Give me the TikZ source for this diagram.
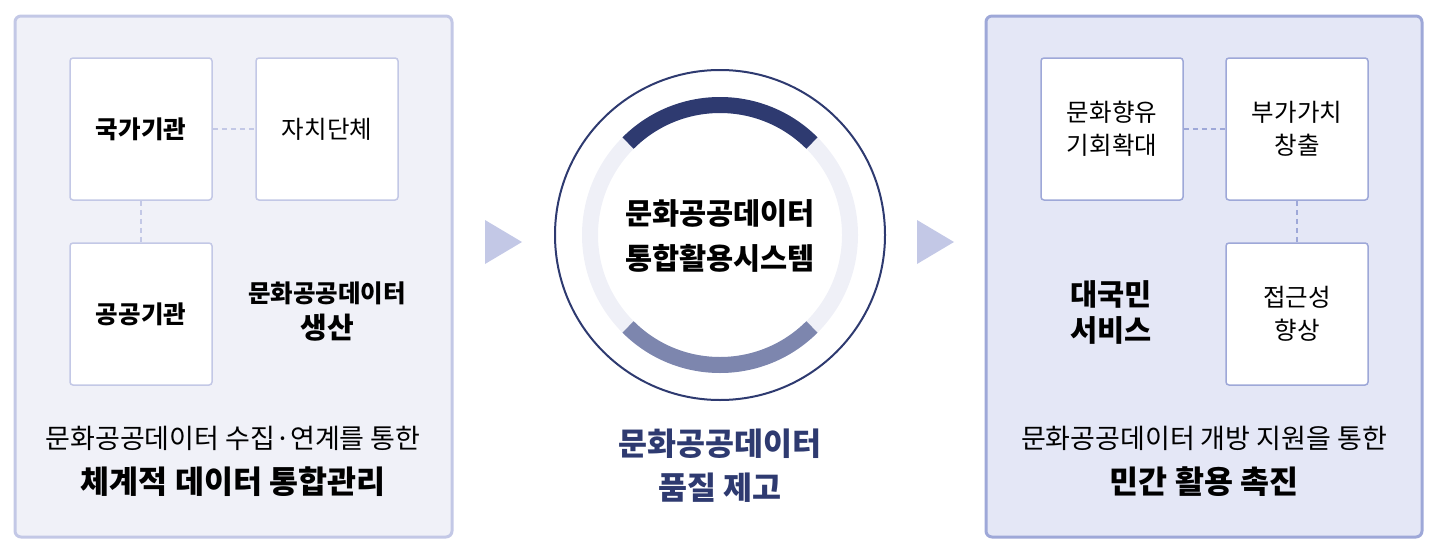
\documentclass[tikz,border=0pt]{standalone}
\usepackage{fontspec}
\setmainfont{Noto Sans CJK KR}
\usepackage{tikz}
\usetikzlibrary{positioning}

\definecolor{navy}{HTML}{2E3A70}
\definecolor{slate}{HTML}{7D86AE}
\definecolor{ringbg}{HTML}{EFF0F7}
\definecolor{lpanel}{HTML}{F0F1F8}
\definecolor{lline}{HTML}{C3C8E6}
\definecolor{rpanel}{HTML}{E4E7F6}
\definecolor{rline}{HTML}{9EA8D8}

\begin{document}
\begin{tikzpicture}[
            x=1pt, y=-1pt,
            panel/.style={rounded corners=6pt, line width=3pt},
            box/.style={rectangle, draw, fill=white, rounded corners=3pt, line width=1.5pt, minimum width=142pt, minimum height=142pt, align=center, font=\fontsize{24.5}{33}\selectfont},
            link/.style={dashed, dash pattern=on 5pt off 4pt, line width=1.5pt},
            label/.style={align=center, font=\fontsize{24.5}{36}\selectfont\bfseries},
            caption/.style={align=center, font=\fontsize{27}{30}\selectfont},
            headline/.style={align=center, font=\fontsize{31.5}{34}\selectfont\bfseries}
        ]
        \useasboundingbox (0,0) rectangle (1440,554);

        % left panel
        \draw[panel, draw=lline, fill=lpanel] (15,16) rectangle (452,537);
        \node[box, draw=lline, font=\fontsize{24.5}{33}\selectfont\bfseries] (Gov) at (141,129) {국가기관};
        \node[box, draw=lline] (Local) at (327,129) {자치단체};
        \node[box, draw=lline, font=\fontsize{24.5}{33}\selectfont\bfseries] (Public) at (141,314) {공공기관};
        \draw[link, draw=lline] (Gov) -- (Local);
        \draw[link, draw=lline] (Gov) -- (Public);
        \node[label] (Produce) at (327,312) {문화공공데이터\\{\fontsize{29}{30}\selectfont 생산}};
        \node[caption] (LeftSub) at (233,438) {문화공공데이터 수집·연계를 통한};
        \node[headline] (LeftHead) at (233,482) {체계적 데이터 통합관리};

        % arrows
        \fill[lline] (485,220) -- (522,242) -- (485,264) -- cycle;
        \fill[lline] (917,220) -- (954,242) -- (917,264) -- cycle;

        % center system
        \draw[navy, line width=2pt] (720,235) circle[radius=165];
        \draw[ringbg, line width=16pt] (720,235) circle[radius=130];
        \draw[navy, line width=16pt] (720,235) ++(-135:130) arc[start angle=-135, end angle=-45, radius=130];
        \draw[slate, line width=16pt] (720,235) ++(135:130) arc[start angle=135, end angle=45, radius=130];
        \node[headline, font=\fontsize{29.5}{45}\selectfont\bfseries] (System) at (720,236) {문화공공데이터\\통합활용시스템};
        \node[headline, text=navy, font=\fontsize{31.5}{44}\selectfont\bfseries] (Quality) at (720,466) {문화공공데이터\\품질 제고};

        % right panel
        \draw[panel, draw=rline, fill=rpanel] (986,16) rectangle (1422,537);
        \node[box, draw=rline] (Culture) at (1112,129) {문화향유\\기회확대};
        \node[box, draw=rline] (Value) at (1297,129) {부가가치\\창출};
        \node[box, draw=rline] (Access) at (1297,314) {접근성\\향상};
        \draw[link, draw=rline] (Culture) -- (Value);
        \draw[link, draw=rline] (Value) -- (Access);
        \node[label, font=\fontsize{29.5}{36}\selectfont\bfseries] (Service) at (1111,312) {대국민\\서비스};
        \node[caption] (RightSub) at (1204,438) {문화공공데이터 개방 지원을 통한};
        \node[headline] (RightHead) at (1204,482) {민간 활용 촉진};

        \end{tikzpicture}
\end{document}
